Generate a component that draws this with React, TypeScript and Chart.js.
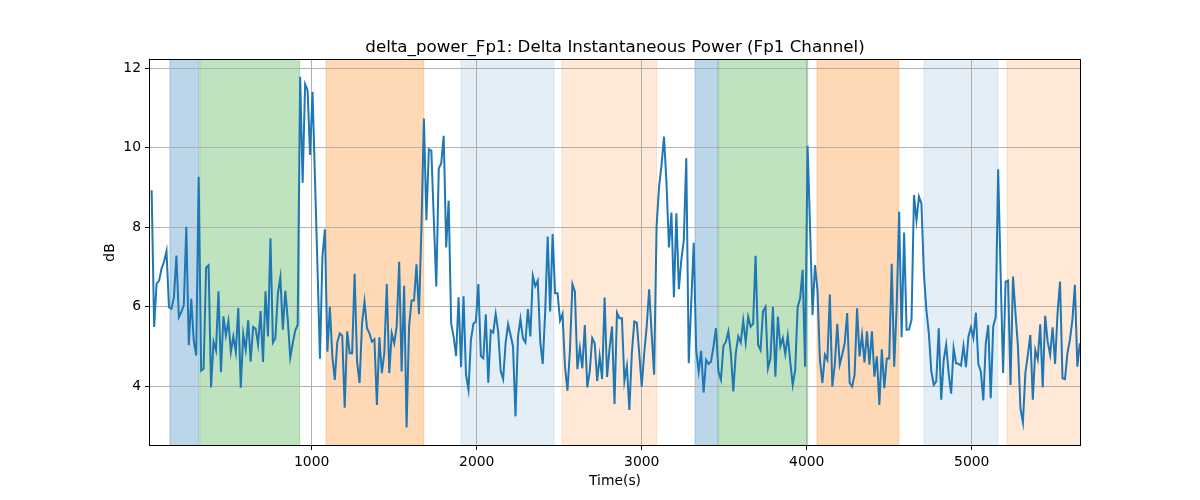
import React, { useEffect, useRef } from 'react';
import { Chart, registerables } from 'chart.js';

Chart.register(...registerables);

// ---- data ----
const TITLE = 'delta_power_Fp1: Delta Instantaneous Power (Fp1 Channel)';
const X_LABEL = 'Time(s)';
const Y_LABEL = 'dB';
const TIME_START = 30; // s, first sample
const TIME_STEP = 15; // s, sampling interval
const X_MIN = 20;
const X_MAX = 5656;
const Y_MIN = 2.52;
const Y_MAX = 12.21;
const X_TICKS = [1000, 2000, 3000, 4000, 5000];
const Y_TICKS = [4, 6, 8, 10, 12];

const DELTA_POWER_DB = [
  8.93, 5.49, 6.58, 6.65, 6.96, 7.13, 7.40, 5.99, 5.95, 6.24,
  7.29, 5.74, 5.87, 6.04, 8.01, 5.03, 6.20, 5.15, 4.77, 9.27,
  4.39, 4.44, 6.98, 7.04, 3.97, 5.12, 4.90, 6.39, 4.35, 5.76,
  5.28, 5.64, 4.86, 5.25, 4.86, 5.97, 3.96, 5.31, 4.92, 5.66,
  4.62, 5.49, 5.45, 5.05, 5.89, 4.61, 6.39, 5.25,
  7.72, 5.10, 5.21, 6.34, 6.74, 5.42, 6.40, 5.67, 4.72, 5.08,
  5.40, 5.54, 11.79, 9.12, 11.60, 11.45, 9.82, 11.41, 9.2, 7.0, 4.69,
  7.26, 7.95, 4.87, 6.00, 4.75, 4.16, 5.10, 5.33, 5.27, 3.46,
  5.38, 4.83, 4.83, 6.83, 4.61, 4.08, 5.58, 6.13, 5.46, 5.33,
  5.12, 5.18, 3.53, 5.23, 4.33, 4.83, 6.57, 4.33,
  5.33, 5.08, 5.50, 7.13, 4.37, 6.53, 2.96, 5.50, 6.16, 6.16,
  7.07, 5.81, 8.0, 10.74, 8.18, 9.96, 9.93, 8.2, 6.51, 9.48,
  9.61, 10.30, 7.49, 8.67, 5.58, 5.25, 4.76, 6.24, 4.48, 6.26,
  4.29, 3.91, 5.17, 5.57, 5.63, 6.57, 4.76, 4.70, 5.81, 4.09,
  5.40, 5.35, 5.82, 5.38, 4.39, 4.18, 5.08, 5.56,
  5.29, 5.00, 3.24, 5.25, 5.69, 5.21, 5.10, 5.94, 5.25, 6.78,
  6.52, 6.66, 5.12, 4.56, 5.88, 7.77, 5.88, 7.83, 6.34, 6.34,
  5.65, 5.82, 4.49, 3.89, 4.91, 6.57, 6.38, 4.43, 4.96, 4.45,
  5.54, 3.97, 4.37, 5.21, 5.08, 4.13, 4.75, 4.18, 6.23, 4.23,
  4.96, 5.50, 3.55, 5.85, 5.71, 5.71, 4.13, 4.51, 3.40,
  4.83, 5.63, 5.60, 4.83, 3.99, 4.83, 5.50, 6.44, 5.33, 4.29,
  8.02, 9.02, 9.57, 10.28, 9.11, 7.49, 8.37, 6.24, 8.35, 6.44,
  7.18, 7.68, 9.74, 4.58, 6.09, 7.61, 4.91, 4.37, 4.89, 3.84,
  4.66, 4.56, 4.62, 5.00, 5.46, 4.37, 4.16, 5.01, 5.12, 5.38,
  4.83, 3.87, 4.83, 5.25, 5.10, 5.65, 5.10, 5.75,
  5.50, 5.57, 7.28, 5.04, 4.91, 5.88, 6.00, 4.45, 4.70, 6.00,
  4.24, 5.75, 5.00, 5.21, 4.81, 5.27, 4.62, 4.03, 4.41, 6.00,
  6.21, 6.93, 4.49, 10.05, 8.02, 5.79, 7.05, 6.42, 4.66, 4.08,
  4.79, 4.66, 6.31, 3.99, 4.54, 5.57, 4.54, 4.79, 5.08, 5.84,
  4.08, 3.99, 4.29, 5.96, 4.75, 5.29, 4.60, 5.38, 4.54,
  5.38, 4.24, 4.75, 3.53, 4.93, 3.95, 4.70, 4.70, 7.08, 4.49,
  6.00, 8.39, 5.23, 7.87, 5.42, 5.43, 5.67, 8.81, 8.17, 8.77,
  8.60, 6.84, 5.92, 5.33, 4.37, 4.03, 4.12, 5.46, 3.66, 4.66,
  5.04, 4.33, 3.81, 4.96, 4.58, 4.56, 4.52, 5.01, 4.48, 5.25,
  5.48, 5.21, 5.85, 4.56, 4.37, 3.64, 5.08, 5.54,
  3.70, 5.50, 5.74, 9.46, 6.84, 4.33, 6.63, 6.66, 4.03, 6.76,
  5.84, 5.00, 3.45, 3.09, 4.33, 4.79, 5.29, 3.66, 4.91, 4.68,
  5.56, 3.97, 5.77, 5.12, 4.79, 5.48, 4.56, 5.84, 6.63, 4.20,
  4.18, 4.83, 5.17, 5.67, 6.55, 4.49, 5.08,
];

// shaded intervals (seconds) and their group index
const SPAN_START = [141, 322, 1087, 1905, 2517, 3323, 3466, 4062, 4711, 5214];
const SPAN_END = [316, 927, 1679, 2468, 3091, 3462, 4006, 4558, 5158, 5700];
const SPAN_GROUP = [0, 1, 2, 3, 4, 0, 1, 2, 3, 4];

// ---- styles ----
const GROUP_COLORS = [
  'rgba(31,119,180,0.3)',
  'rgba(44,160,44,0.3)',
  'rgba(255,127,14,0.3)',
  'rgba(31,119,180,0.12)',
  'rgba(255,127,14,0.17)',
];
const FONT = "'DejaVu Sans', 'Liberation Sans', sans-serif";

const decorPlugin = {
  id: 'decor',
  beforeDraw(chart: any) {
    const { ctx, chartArea, scales } = chart;
    const xs = scales.x;
    ctx.save();
    ctx.beginPath();
    ctx.rect(chartArea.left, chartArea.top, chartArea.right - chartArea.left, chartArea.bottom - chartArea.top);
    ctx.clip();
    for (let i = 0; i < SPAN_START.length; i++) {
      const x0 = xs.getPixelForValue(SPAN_START[i]);
      const x1 = xs.getPixelForValue(SPAN_END[i]);
      const c = GROUP_COLORS[SPAN_GROUP[i]];
      ctx.fillStyle = c;
      ctx.fillRect(x0, chartArea.top, x1 - x0, chartArea.bottom - chartArea.top);
      ctx.strokeStyle = c;
      ctx.lineWidth = 1;
      ctx.strokeRect(x0, chartArea.top - 2, x1 - x0, chartArea.bottom - chartArea.top + 4);
    }
    ctx.restore();
  },
  afterDraw(chart: any) {
    const { ctx, chartArea } = chart;
    ctx.save();
    ctx.strokeStyle = '#000';
    ctx.lineWidth = 1;
    ctx.strokeRect(
      Math.round(chartArea.left) - 0.5,
      Math.round(chartArea.top) - 0.5,
      Math.round(chartArea.right - chartArea.left) + 1,
      Math.round(chartArea.bottom - chartArea.top) + 1
    );
    const cx = (chartArea.left + chartArea.right) / 2;
    ctx.fillStyle = '#000';
    ctx.textAlign = 'center';
    ctx.textBaseline = 'alphabetic';
    ctx.font = `16.7px ${FONT}`;
    ctx.fillText(TITLE, cx, chartArea.top - 8.5);
    ctx.font = `13.9px ${FONT}`;
    ctx.textBaseline = 'middle';
    ctx.fillText(X_LABEL, cx, 481);
    ctx.translate(110, (chartArea.top + chartArea.bottom) / 2);
    ctx.rotate(-Math.PI / 2);
    ctx.fillText(Y_LABEL, 0, 0);
    ctx.restore();
  },
};

export default function App() {
  const ref = useRef<HTMLCanvasElement | null>(null);
  useEffect(() => {
    if (!ref.current) return;
    const points = DELTA_POWER_DB.map((v, i) => ({ x: TIME_START + i * TIME_STEP, y: v }));
    const chart = new Chart(ref.current, {
      type: 'line',
      data: {
        datasets: [
          {
            data: points,
            borderColor: '#1f77b4',
            borderWidth: 2,
            pointRadius: 0,
            fill: false,
            tension: 0,
          },
        ],
      },
      options: {
        animation: false,
        responsive: false,
        events: [],
        layout: { padding: { left: 0, right: 120, top: 60, bottom: 0 } },
        plugins: { legend: { display: false }, tooltip: { enabled: false }, title: { display: false } },
        scales: {
          x: {
            type: 'linear',
            min: X_MIN,
            max: X_MAX,
            afterBuildTicks: (s: any) => { s.ticks = X_TICKS.map((v) => ({ value: v })); },
            afterFit: (s: any) => { s.height = 55; },
            border: { display: false },
            grid: { color: '#b0b0b0', lineWidth: 1, tickColor: '#000', tickLength: 5, drawTicks: true },
            ticks: { color: '#000', font: { family: FONT, size: 13.9 }, padding: 4, maxRotation: 0, callback: (v: any) => String(v) },
          },
          y: {
            type: 'linear',
            min: Y_MIN,
            max: Y_MAX,
            afterBuildTicks: (s: any) => { s.ticks = Y_TICKS.map((v) => ({ value: v })); },
            afterFit: (s: any) => { s.width = 150; },
            border: { display: false },
            grid: { color: '#b0b0b0', lineWidth: 1, tickColor: '#000', tickLength: 5, drawTicks: true },
            ticks: { color: '#000', font: { family: FONT, size: 13.9 }, padding: 4, callback: (v: any) => String(v) },
          },
        },
      },
      plugins: [decorPlugin],
    });
    return () => chart.destroy();
  }, []);
  return (
    <div style={{ position: 'absolute', left: 0, top: 0, width: 1200, height: 500, background: '#fff' }}>
      <canvas ref={ref} width={1200} height={500} style={{ width: 1200, height: 500, display: 'block' }} />
    </div>
  );
}
